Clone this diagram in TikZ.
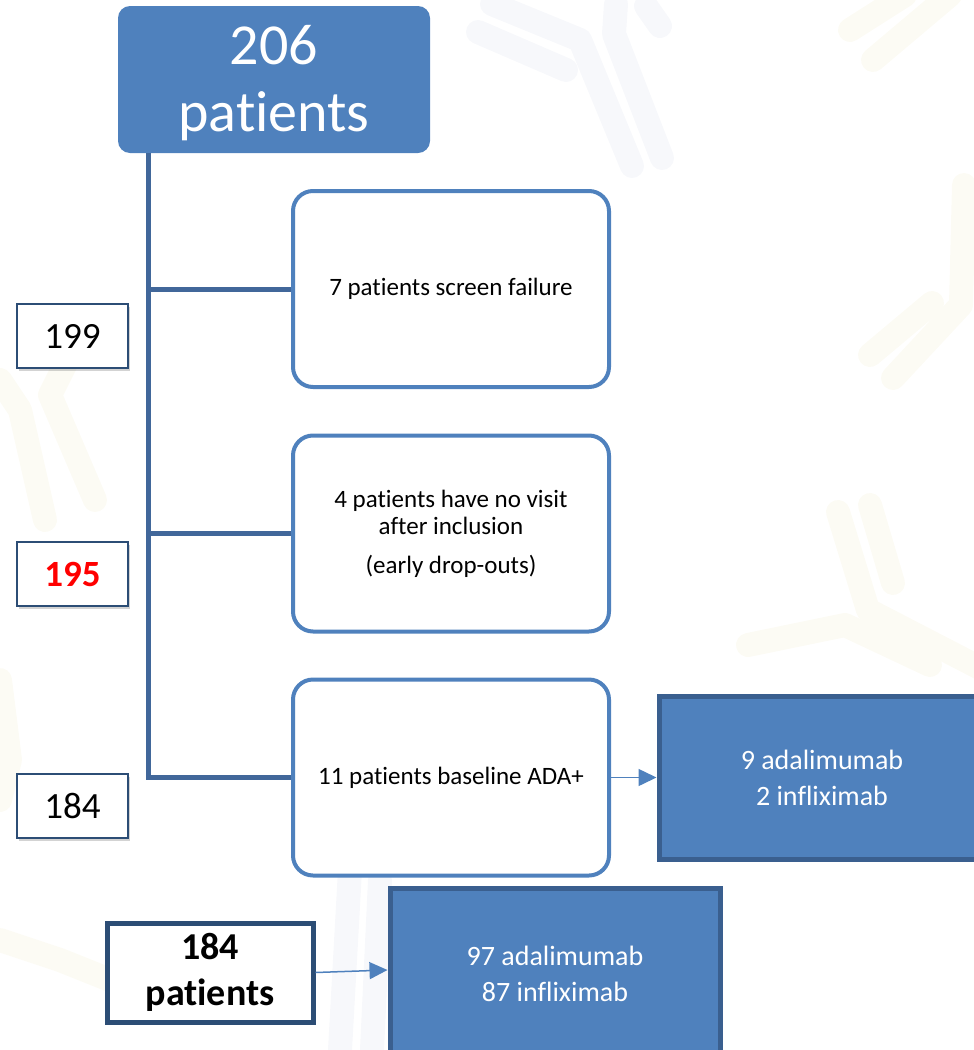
\documentclass[tikz,border=0pt]{standalone}
\usepackage{fontspec}
\setmainfont{Carlito}[Ligatures={NoCommon,NoRare,NoContextual}]
\usetikzlibrary{arrows.meta,shadows}
\newcommand\tieach{t\kern0pt i}
\newcommand\flsep{f\kern0pt l}
\definecolor{fillblue}{HTML}{4F81BD}
\definecolor{trunkblue}{HTML}{41679A}
\definecolor{numborder}{HTML}{2C4D75}
\definecolor{boxborder}{HTML}{3A5F8F}
\definecolor{wmblue}{HTML}{F7F8FB}
\definecolor{wmyellow}{HTML}{FCFBF4}
\begin{document}
\begin{tikzpicture}[x=1pt,y=-1pt,
  wmb/.style={draw=wmblue,line width=24pt,line cap=round,line join=round},
  wmy/.style={draw=wmyellow,line width=24pt,line cap=round,line join=round},
  topbox/.style={fill=fillblue,rounded corners=12pt,minimum width=312pt,minimum height=147pt},
  toptext/.style={text=white,align=center,font=\fontsize{58}{67}\selectfont},
  stagebox/.style={draw=fillblue,fill=white,line width=4pt,rounded corners=20pt,
    minimum width=316pt,minimum height=196pt,align=center,font=\fontsize{25}{27}\selectfont},
  numbox/.style={draw=numborder,fill=white,line width=2pt,minimum width=111pt,minimum height=64pt,
    font=\fontsize{37}{40}\selectfont,
    drop shadow={opacity=0.35,shadow xshift=2pt,shadow yshift=-3pt}},
  drugbox/.style={draw=boxborder,fill=fillblue,line width=5pt,text=white,align=center,
    font=\fontsize{28}{36}\selectfont},
  trunk/.style={draw=trunkblue,line width=5pt},
  arr/.style={draw=fillblue,line width=1.5pt,-{Triangle[length=18pt,width=17pt]}}
]
\useasboundingbox (0,0) rectangle (974,1050);
\clip (0,0) rectangle (974,1050);
% faint watermark antibodies
\draw[wmb] (478,32) -- (566,70);
\draw[wmb] (492,4) -- (580,40) -- (632,166);
\draw[wmb] (616,4) -- (614,34) -- (662,158);
\draw[wmb] (646,6) -- (660,26);
\draw[wmy] (850,30) -- (905,-5);
\draw[wmy] (873,60) -- (950,-5);
\draw[wmy] (964,185) -- (961,305) -- (893,378);
\draw[wmy] (870,355) -- (932,303);
\draw[wmy] (838,512) -- (868,610) -- (980,668);
\draw[wmy] (870,505) -- (893,583);
\draw[wmy] (748,645) -- (845,625) -- (930,665);
\draw[wmy] (75,345) -- (50,395) -- (95,500);
\draw[wmy] (0,380) -- (20,410) -- (45,520);
\draw[wmy] (0,680) -- (10,760) -- (0,800);
\draw[wmy] (0,940) -- (60,960) -- (110,980);
\draw[wmb] (350,870) -- (340,1050);
\draw[wmb] (380,880) -- (372,1050);
% nodes
\node[topbox] (top) at (274,79.5) {};
\node[toptext] (toplabel) at (274,83.5) {206\\pa\tieach ents};
\node[stagebox] (s1) at (451,289) {7 pa\tieach ents screen failure};
\node[stagebox] (s2) at (451,533.5) {4 pa\tieach ents have no visit\\after inclusion\\[12pt](early drop-outs)};
\node[stagebox] (s3) at (451,777.5) {11 pa\tieach ents baseline ADA+};
\node[numbox] (n1) at (72.5,336) {199};
\node[numbox,text=red,font=\fontsize{37}{40}\selectfont\bfseries] (n2) at (72.5,574) {195};
\node[numbox] (n3) at (72.5,806) {184};
\node[drugbox,minimum width=326pt,minimum height=163pt] (r1) at (822,777.5) {9 adalimumab\\2 in\flsep iximab};
\node[draw=numborder,fill=white,line width=5pt,minimum width=206pt,minimum height=99pt,align=center,
  font=\fontsize{38}{46}\selectfont\bfseries] (bl) at (210,972.5) {\rule{0pt}{8pt}184\\pa\tieach ents};
\node[drugbox,minimum width=330pt,minimum height=172pt] (r2) at (555,974) {97 adalimumab\\87 in\flsep iximab};
% connectors
\coordinate (tr) at (148,153);
\draw[trunk] (tr) |- (s3.west);
\draw[trunk] (tr |- s1.west) -- (s1.west);
\draw[trunk] (tr |- s2.west) -- (s2.west);
\draw[arr] (s3.east) -- (r1.west);
\draw[arr] (bl.east) -- ([yshift=4pt]r2.west);
\end{tikzpicture}
\end{document}
